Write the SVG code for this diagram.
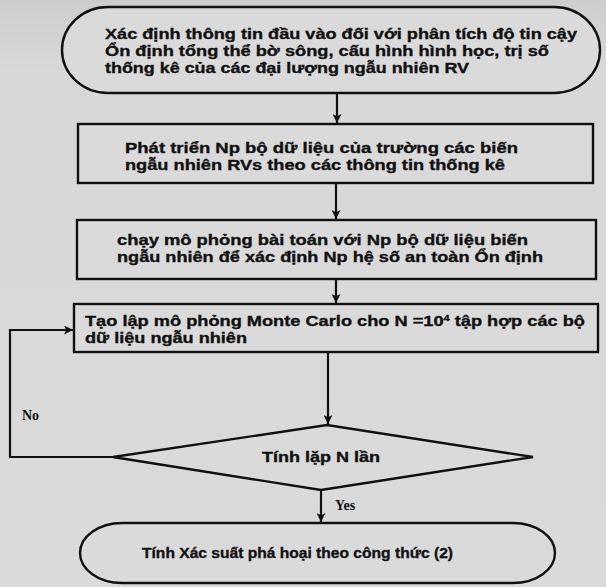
<svg xmlns="http://www.w3.org/2000/svg" width="606" height="587" viewBox="0 0 606 587">
  <defs>
    <linearGradient id="paper" x1="0" y1="0" x2="0" y2="1">
      <stop offset="0" stop-color="#cdcdcd"/>
      <stop offset="0.12" stop-color="#d8d8d8"/>
      <stop offset="1" stop-color="#dadada"/>
    </linearGradient>
    <marker id="arrow" viewBox="0 0 10 10" refX="10" refY="5" markerWidth="9" markerHeight="9" markerUnits="userSpaceOnUse" orient="auto">
      <path d="M0,0 L10,5 L0,10 L2.5,5 Z" fill="#111"/>
    </marker>
    <style>
      .shape { fill: #dadada; stroke: #111; stroke-width: 2.4; }
      .label { font-family: "Liberation Sans", Arial, sans-serif; font-weight: 700; font-size: 15px; fill: #111; stroke: #111; stroke-width: 0.35; }
      .branch { font-family: "Liberation Serif", "Times New Roman", serif; font-weight: 700; font-size: 14px; fill: #111; }
      .link { fill: none; stroke: #111; stroke-width: 2.2; }
    </style>
  </defs>

  <rect x="0" y="0" width="606" height="587" fill="url(#paper)"/>

  <!-- start: input data -->
  <g id="start">
    <rect class="shape" x="62" y="7" width="538" height="86" rx="46" ry="43"/>
    <text class="label" x="105" y="39" textLength="472" lengthAdjust="spacingAndGlyphs">Xác định thông tin đầu vào đối với phân tích độ tin cậy</text>
    <text class="label" x="105" y="56" textLength="444" lengthAdjust="spacingAndGlyphs">Ổn định tổng thể bờ sông, cấu hình hình học, trị số</text>
    <text class="label" x="105" y="73" textLength="364" lengthAdjust="spacingAndGlyphs">thống kê của các đại lượng ngẫu nhiên RV</text>
  </g>

  <!-- step: generate Np data sets -->
  <g id="generate">
    <rect class="shape" x="78" y="124" width="515" height="59"/>
    <text class="label" x="125" y="153" textLength="393" lengthAdjust="spacingAndGlyphs">Phát triển Np bộ dữ liệu của trường các biến</text>
    <text class="label" x="125" y="170" textLength="380" lengthAdjust="spacingAndGlyphs">ngẫu nhiên RVs theo các thông tin thống kê</text>
  </g>

  <!-- step: run simulations -->
  <g id="simulate">
    <rect class="shape" x="77" y="220" width="519" height="59"/>
    <text class="label" x="117" y="245" textLength="411" lengthAdjust="spacingAndGlyphs">chạy mô phỏng bài toán với Np bộ dữ liệu biến</text>
    <text class="label" x="117" y="262" textLength="426" lengthAdjust="spacingAndGlyphs">ngẫu nhiên để xác định Np hệ số an toàn Ổn định</text>
  </g>

  <!-- step: Monte Carlo sets -->
  <g id="montecarlo">
    <rect class="shape" x="74" y="304" width="524" height="48"/>
    <text class="label" x="85" y="326" textLength="500" lengthAdjust="spacingAndGlyphs">Tạo lập mô phỏng Monte Carlo cho N =10<tspan dy="-5" font-size="9">4</tspan><tspan dy="5"> tập hợp các bộ</tspan></text>
    <text class="label" x="85" y="343" textLength="162" lengthAdjust="spacingAndGlyphs">dữ liệu ngẫu nhiên</text>
  </g>

  <!-- decision: N iterations -->
  <g id="decision">
    <polygon class="shape" points="113,457 327,425 533,457 321,490"/>
    <text class="label" x="262" y="462" textLength="118" lengthAdjust="spacingAndGlyphs">Tính lặp N lần</text>
  </g>

  <!-- end: failure probability -->
  <g id="end">
    <rect class="shape" x="80" y="523" width="475" height="60" rx="42" ry="30"/>
    <text class="label" x="142" y="558" textLength="311" lengthAdjust="spacingAndGlyphs">Tính Xác suất phá hoại theo công thức (2)</text>
  </g>

  <!-- connectors -->
  <g id="connectors">
    <path class="link" d="M337 93 V123" marker-end="url(#arrow)"/>
    <path class="link" d="M336 183 V219" marker-end="url(#arrow)"/>
    <path class="link" d="M336 279 V303" marker-end="url(#arrow)"/>
    <path class="link" d="M328 352 V424" marker-end="url(#arrow)"/>
    <path class="link" d="M113 457 H10 V330 H73" marker-end="url(#arrow)"/>
    <path class="link" d="M321 490 V522" marker-end="url(#arrow)"/>
    <text class="branch" x="22" y="420">No</text>
    <text class="branch" x="335" y="510">Yes</text>
  </g>
</svg>
